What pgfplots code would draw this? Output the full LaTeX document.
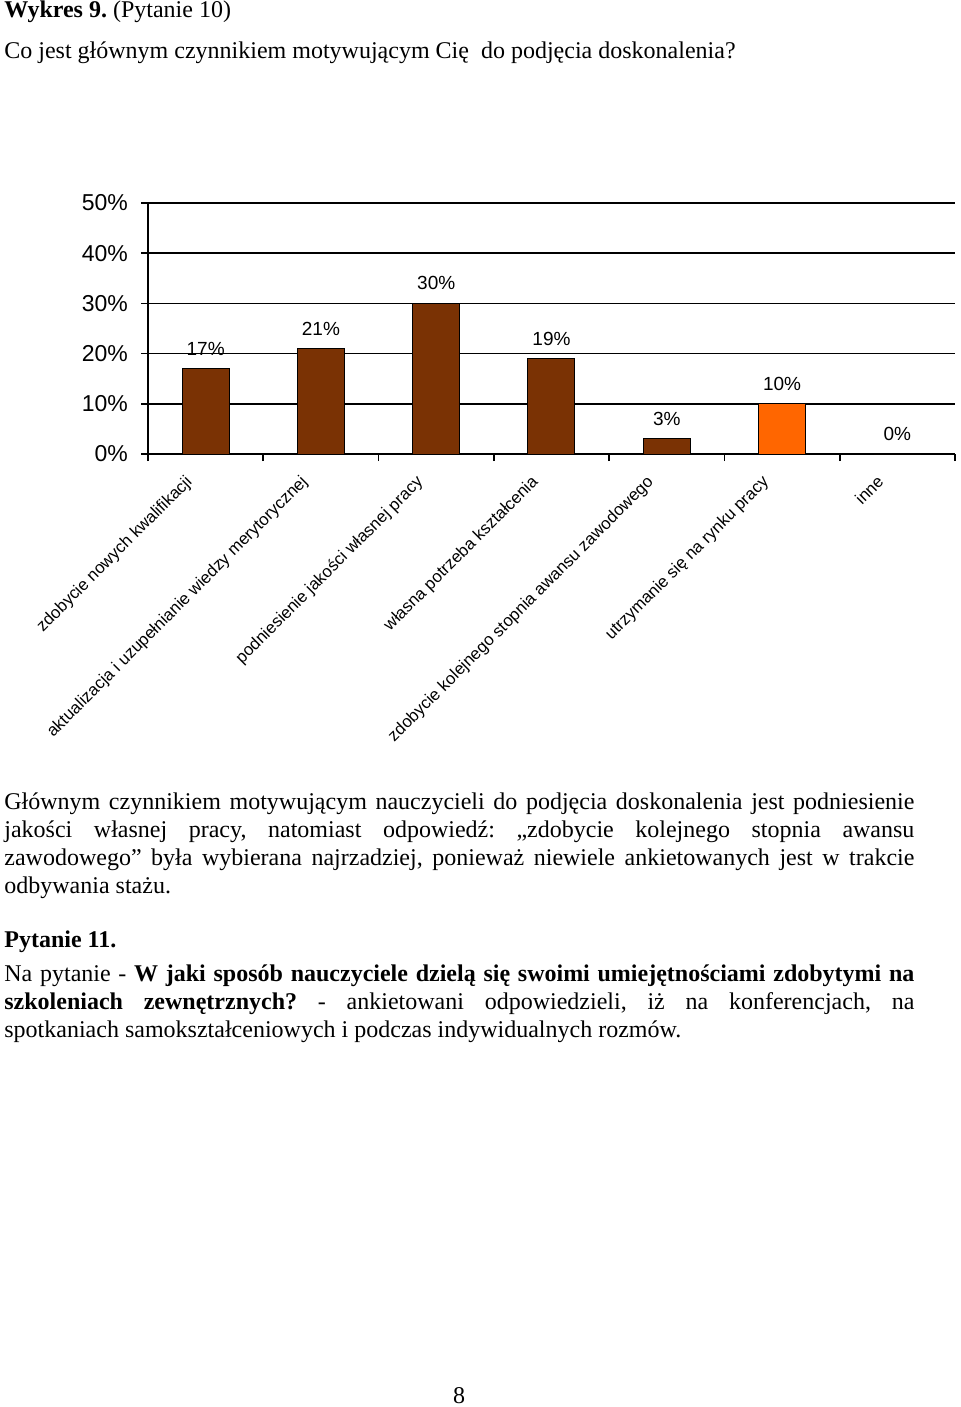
\documentclass[border=0pt]{standalone}
\usepackage{fontspec}
\setmainfont{Liberation Serif}
\newfontfamily\arial{Liberation Sans}
\usepackage{pgfplots}
\pgfplotsset{compat=1.18}
\definecolor{brazowy}{RGB}{122,50,4}
\definecolor{pomarancz}{RGB}{255,102,0}
\newcommand\tekst{\fontsize{12}{14}\selectfont}
\frenchspacing
\begin{document}
\begin{tikzpicture}[x=0.5pt,y=0.5pt]
\useasboundingbox (0,0) rectangle (960,-1407);
% naglowek
\node[anchor=base west, inner sep=0, font=\tekst] at (4,-18) {\textbf{Wykres 9.} (Pytanie 10)};
\node[anchor=base west, inner sep=0, font=\tekst] at (4,-59) {Co jest głównym czynnikiem motywującym Cię\ \ do podjęcia doskonalenia?};

\begin{axis}[
  at={(74pt,-227pt)}, anchor=south west,
  scale only axis, width=403.5pt, height=125.5pt,
  xmin=0.5, xmax=7.5, ymin=0, ymax=50,
  axis x line*=bottom, axis y line*=left,
  axis line style={black, line width=0.8pt},
  /pgf/number format/assume math mode=true,
  ytick={0,10,...,50},
  yticklabel={\pgfmathprintnumber{\tick}\%},
  yticklabel style={font=\arial\fontsize{11.5}{13}\selectfont, xshift=-3pt},
  ymajorgrids, grid style={black, line width=0.8pt},
  tick align=outside, major tick length=3.5pt,
  tick style={black, line width=0.8pt},
  xtick={0.5,1.5,...,7.5}, xticklabels={},
  extra x ticks={1,...,7},
  extra x tick labels={zdobycie nowych kwalifikacji,aktualizacja i uzupełnianie wiedzy merytorycznej,podniesienie jakości własnej pracy,własna potrzeba kształcenia,zdobycie kolejnego stopnia awansu zawodowego,utrzymanie się na rynku pracy,inne},
  extra x tick style={major tick length=0pt, grid=none},
  % przesuniecia w ukladzie obroconym o 45 stopni
  xticklabel style={rotate=45, anchor=north east, font=\arial\fontsize{8.4}{10}\selectfont, xshift=-11.15pt, yshift=3.95pt},
  ybar, bar width=23.5pt, bar shift=0pt,
  nodes near coords={\pgfmathprintnumber{\pgfplotspointmeta}\%},
  every node near coord/.append style={font=\arial\fontsize{9.5}{11}\selectfont, anchor=center, yshift=10pt, black},
]
\addplot[fill=brazowy, draw=black, line width=0.5pt] coordinates {(1,17) (2,21) (3,30) (4,19) (5,3) (7,0)};
\addplot[fill=pomarancz, draw=black, line width=0.5pt] coordinates {(6,10)};
\end{axis}

% tekst pod wykresem
\node[anchor=base west, inner sep=0, font=\tekst] at (4,-809) {\makebox[455pt][s]{Głównym czynnikiem motywującym nauczycieli do podjęcia doskonalenia jest podniesienie}};
\node[anchor=base west, inner sep=0, font=\tekst] at (4,-837) {\makebox[455pt][s]{jakości własnej pracy, natomiast odpowiedź: „zdobycie kolejnego stopnia awansu}};
\node[anchor=base west, inner sep=0, font=\tekst] at (4,-865) {\makebox[455pt][s]{zawodowego” była wybierana najrzadziej, ponieważ niewiele ankietowanych jest w trakcie}};
\node[anchor=base west, inner sep=0, font=\tekst] at (4,-893) {odbywania stażu.};
\node[anchor=base west, inner sep=0, font=\tekst] at (4,-947) {\textbf{Pytanie 11.}};
\node[anchor=base west, inner sep=0, font=\tekst] at (4,-981) {\makebox[455pt][s]{Na pytanie - \textbf{W jaki sposób nauczyciele dzielą się swoimi umiejętnościami zdobytymi na}}};
\node[anchor=base west, inner sep=0, font=\tekst] at (4,-1009) {\makebox[455pt][s]{\textbf{szkoleniach zewnętrznych?} - ankietowani odpowiedzieli, iż na konferencjach, na}};
\node[anchor=base west, inner sep=0, font=\tekst] at (4,-1037) {spotkaniach samokształceniowych i podczas indywidualnych rozmów.};
\node[anchor=base, inner sep=0, font=\tekst] at (459,-1403) {8};
\end{tikzpicture}
\end{document}
